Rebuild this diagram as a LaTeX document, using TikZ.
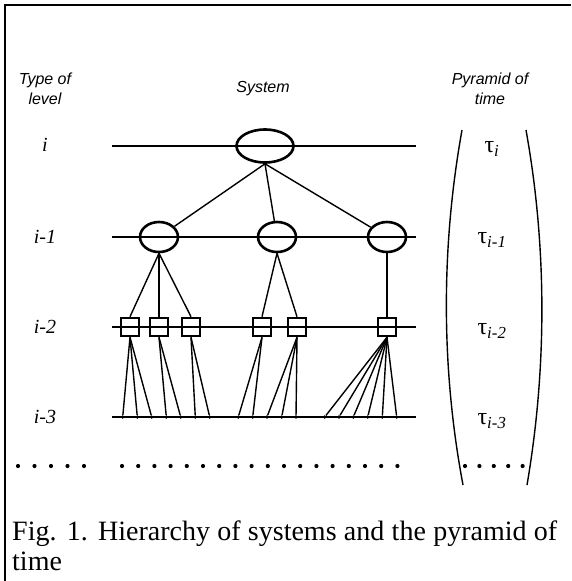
\documentclass[tikz,border=0pt]{standalone}
\usepackage{fontspec}
\setmainfont{Liberation Serif}
\setsansfont{Liberation Sans}
\usetikzlibrary{shapes.geometric}
\begin{document}
\begin{tikzpicture}[x=1pt,y=-1pt,
		sysnode/.style={draw,ellipse,line width=2.6pt,inner sep=0pt,minimum width=38pt,minimum height=30pt},
		subnode/.style={draw,rectangle,line width=2.6pt,inner sep=0pt,minimum size=18pt},
		elem/.style={circle,fill,inner sep=0pt,minimum size=3.6pt},
		bigdot/.style={circle,fill,inner sep=0pt,minimum size=4.2pt},
		head/.style={font=\sffamily\itshape\fontsize{16}{20}\selectfont,align=center},
		lvl/.style={font=\itshape\fontsize{20}{22}\selectfont},
		tau/.style={font=\fontsize{24}{26}\selectfont},
		link/.style={line width=1.4pt}]
		\useasboundingbox (0,0) rectangle (571,581);
		\draw[line width=2.4pt] (5,581) -- (5,5) -- (571,5);

		% headers
		\node[head] (htype) at (45,89) {Type of\\level};
		\node[head] (hsys) at (263,89) {System};
		\node[head] (htime) at (490,89) {Pyramid of\\time};

		% level labels
		\node[lvl] (l0) at (45,145) {i};
		\node[lvl] (l1) at (45,237) {i-1};
		\node[lvl] (l2) at (45,327) {i-2};
		\node[lvl] (l3) at (45,417) {i-3};

		% level lines
		\draw[link] (112,146) -- (416,146);
		\draw[link] (112,237) -- (416,237);
		\draw[link] (112,327) -- (416,327);
		\draw[link] (112,417) -- (416,417);

		% systems
		\node[sysnode,minimum width=57pt,minimum height=33pt] (s) at (265,146) {};
		\node[sysnode] (s1) at (159,237) {};
		\node[sysnode] (s2) at (277,237) {};
		\node[sysnode] (s3) at (387,237) {};
		\draw[link] (s.south) -- (s1);
		\draw[link] (s.south) -- (s2);
		\draw[link] (s.south) -- (s3);

		% subsystems
		\node[subnode] (q1) at (130,327) {};
		\node[subnode] (q2) at (159,327) {};
		\node[subnode] (q3) at (191,327) {};
		\node[subnode] (q4) at (262,327) {};
		\node[subnode] (q5) at (297,327) {};
		\node[subnode] (q6) at (387,327) {};
		\draw[link] (s1.south) -- (q1.north);
		\draw[link] (s1.south) -- (q2.north);
		\draw[link] (s1.south) -- (q3.north);
		\draw[link] (s2.south) -- (q4.north);
		\draw[link] (s2.south) -- (q5.north);
		\draw[link] (s3.south) -- (q6.north);

		% elements
		\foreach \n/\x in {1/122.7,2/137.3,3/151.7,4/166.3,5/180.7,6/195.3,7/209.7,
			8/238.3,9/252.7,10/267,11/281.7,12/296,
			13/324.7,14/339,15/353.3,16/367.7,17/382.3,18/396.7}
			\node[elem] (e\n) at (\x,417) {};
		\foreach \n in {1,2,3} \draw[link] (q1.south) -- (e\n);
		\foreach \n in {4,5} \draw[link] (q2.south) -- (e\n);
		\foreach \n in {6,7} \draw[link] (q3.south) -- (e\n);
		\foreach \n in {8,9} \draw[link] (q4.south) -- (e\n);
		\foreach \n in {10,11,12} \draw[link] (q5.south) -- (e\n);
		\foreach \n in {13,...,18} \draw[link] (q6.south) -- (e\n);

		% dotted row
		\foreach \i in {0,...,4}
			\node[bigdot] (da\i) at (18+16.5*\i,466) {};
		\foreach \i in {0,...,17}
			\node[bigdot] (db\i) at (122+16.2*\i,466) {};
		\foreach \i in {0,...,4}
			\node[bigdot] (dc\i) at (465+14.4*\i,466) {};

		% pyramid of time
		\draw[link] (462,130) .. controls (441,247) and (441,368) .. (463,485);
		\draw[link] (526,130) .. controls (547,247) and (547,368) .. (527,485);
		\node[tau] (t0) at (492,149) {τ\textsubscript{\itshape i}};
		\node[tau] (t1) at (492,240) {τ\textsubscript{\itshape i-1}};
		\node[tau] (t2) at (492,331) {τ\textsubscript{\itshape i-2}};
		\node[tau] (t3) at (492,421) {τ\textsubscript{\itshape i-3}};

		% caption
		\node[anchor=base west,inner sep=0pt,text width=545pt,align=justify,
			font=\fontsize{28}{30}\selectfont] (cap) at (12,540)
			{Fig. 1. Hierarchy of systems and the pyramid of\linebreak time};
	\end{tikzpicture}
\end{document}
